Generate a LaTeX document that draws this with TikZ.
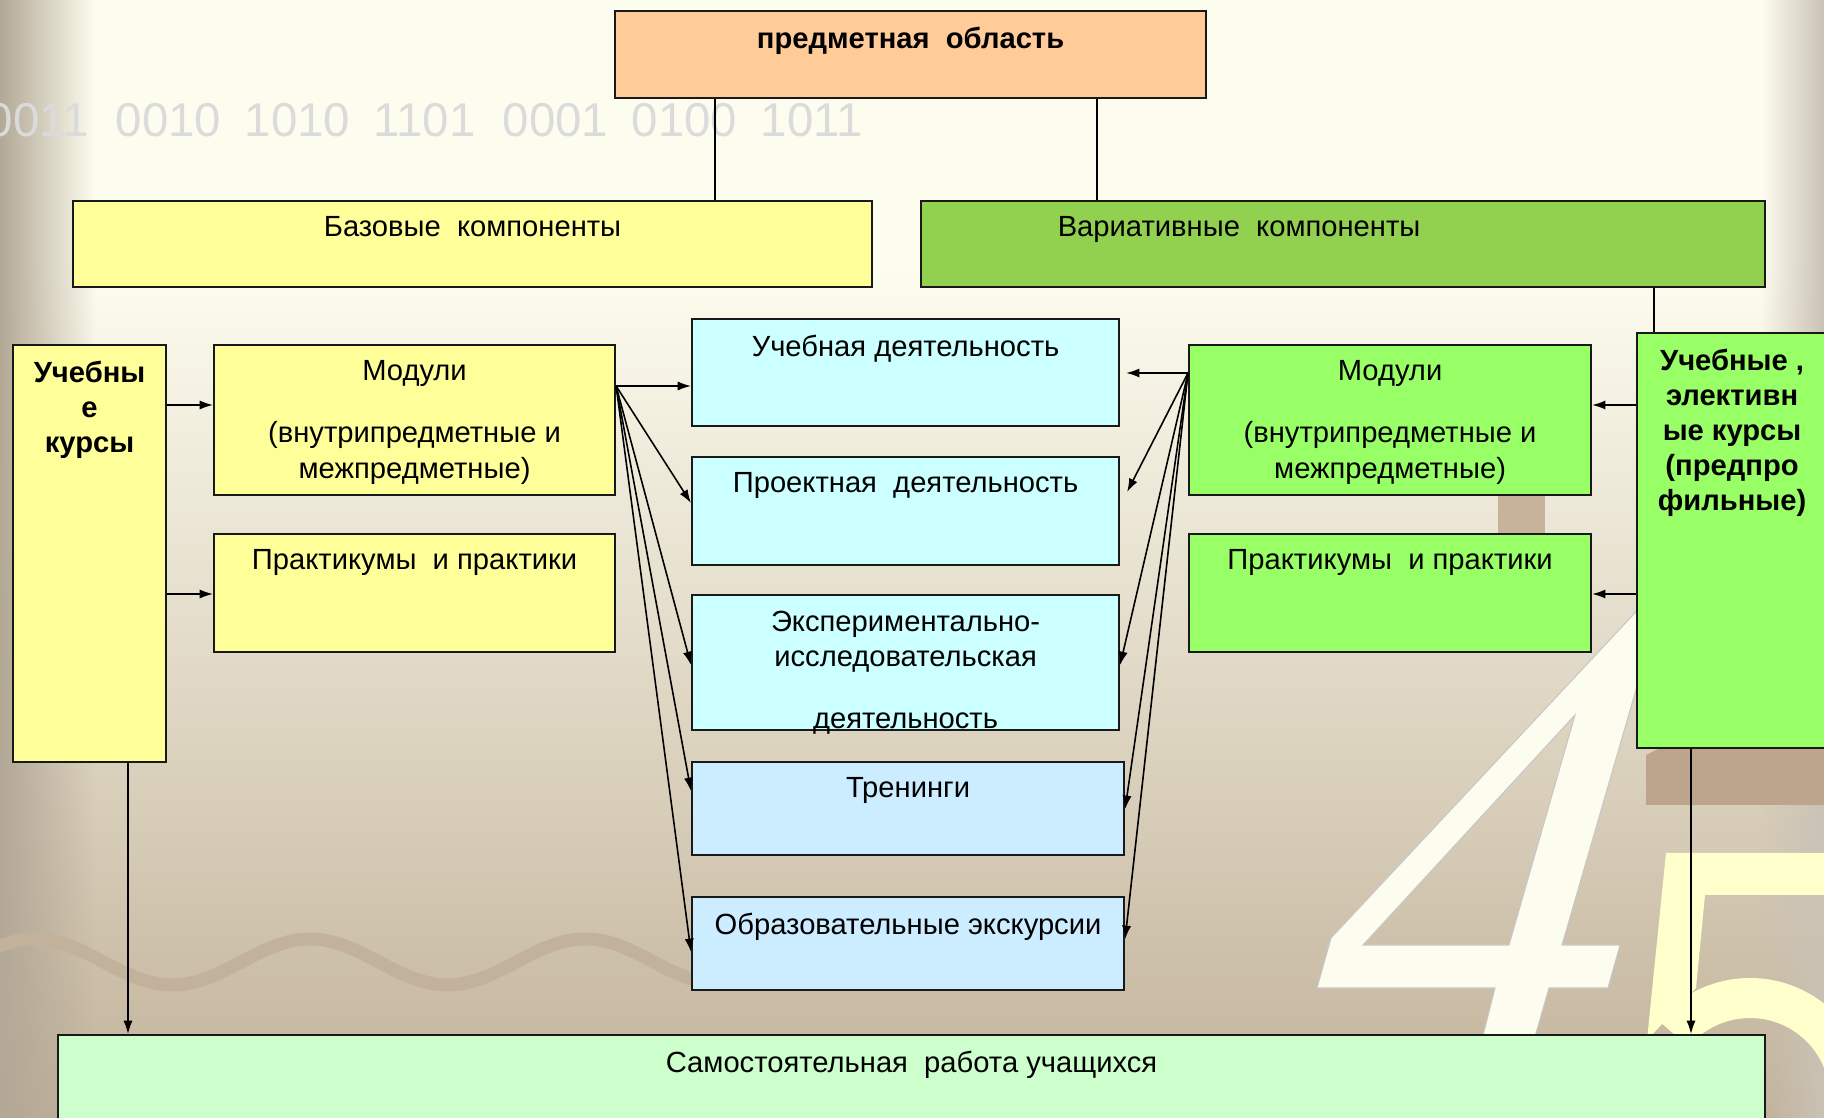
\documentclass[tikz,border=0pt]{standalone}
\usepackage{fontspec}
\setmainfont{Liberation Sans}
\usetikzlibrary{arrows.meta,positioning,fadings}

\definecolor{peach}{HTML}{FFCC99}
\definecolor{lyellow}{HTML}{FFFF99}
\definecolor{vargreen}{HTML}{92D050}
\definecolor{lgreen}{HTML}{99FF66}
\definecolor{lcyan}{HTML}{CCFFFF}
\definecolor{lblue}{HTML}{CCECFF}
\definecolor{mint}{HTML}{CCFFCC}
\definecolor{bgtop}{HTML}{FDFDEF}
\definecolor{bgbot}{HTML}{C2B29A}
\definecolor{edgeclr}{HTML}{B3A896}
\definecolor{waveclr}{HTML}{C2B29C}
\definecolor{brownbk}{HTML}{BDA58D}
\definecolor{fiveclr}{HTML}{FFFFCC}

\newcommand{\fs}{\fontsize{8.3}{10}\selectfont}

\tikzfading[name=fadeE, left color=transparent!0, right color=transparent!100]
\tikzfading[name=fadeW, left color=transparent!100, right color=transparent!0]

\begin{document}
\begin{tikzpicture}[y=-1cm,>={Latex[length=3.8pt,width=2.6pt]},font=\fs]
\tikzstyle{bx}=[draw=black!90,line width=0.6pt,anchor=north west,inner sep=0pt]
\tikzstyle{ttl}=[anchor=north,align=center,inner sep=0pt,yshift=-0.16cm]
\tikzstyle{ttlb}=[ttl,font=\fs\bfseries]
\tikzstyle{ln}=[line width=0.45pt]
\useasboundingbox (0,0) rectangle (18.24,11.18);
\clip (0,0) rectangle (18.24,11.18);
% background
\fill[bgtop] (0,0) rectangle (18.24,2.6);
\shade[top color=bgtop,bottom color=bgbot] (0,2.59) rectangle (18.24,11.18);
\fill[edgeclr,path fading=fadeE] (0,0) rectangle (0.95,11.18);
\fill[edgeclr!70,path fading=fadeW] (17.62,0) rectangle (18.24,11.18);
\draw[waveclr,line width=0.13cm] plot[domain=-0.3:7.0,samples=90,smooth] (\x,{9.62-0.23*cos(deg(2*pi*(\x-0.35)/2.75))});
\foreach \g [count=\i from 0] in {0011,0010,1010,1101,0001,0100,1011}
  \node[anchor=base west,inner sep=0pt,text=black!14,font=\fontsize{13.5}{14}\selectfont] (bin\i) at ({-0.14+1.29*\i},1.37) {\g};
\fill[brownbk!85!bgtop] (14.98,4.7) rectangle (15.45,5.5);
\fill[brownbk] (16.46,7.55) -- (16.62,7.47) -- (18.3,7.47) -- (18.3,8.05) -- (16.46,8.05) -- cycle;
\filldraw[fill=bgtop,draw=black!22,line width=0.3pt,even odd rule]
  (16.47,6.00) -- (16.62,6.00) -- (15.62,9.45) -- (16.20,9.45) -- (16.08,9.88) -- (15.49,9.88)
  -- (15.08,11.3) -- (14.59,11.3) -- (14.95,9.88) -- (13.17,9.88) -- (13.31,9.38) -- cycle
  (13.63,9.45) -- (15.09,9.45) -- (15.75,7.15) -- cycle;
\fill[fiveclr] (16.66,8.53) -- (18.4,8.53) -- (18.4,8.95) -- (17.05,8.95) -- (16.96,9.88) -- (16.47,10.4) -- cycle;
\draw[fiveclr,line width=0.4cm] (17.5,10.98) ++(-140:1) arc[start angle=-140,end angle=30,radius=1];

% top level
\node[bx,fill=peach,minimum width=5.91cm,minimum height=0.87cm,label={[ttlb]north:предметная~ область}] (top) at (6.14,0.10) {};
\node[bx,fill=lyellow,minimum width=7.99cm,minimum height=0.86cm,label={[ttl]north:Базовые~ компоненты}] (base) at (0.72,2.00) {};
\node[bx,fill=vargreen,minimum width=8.44cm,minimum height=0.86cm,label={[ttl,xshift=-1.04cm]north:Вариативные~ компоненты}] (var) at (9.20,2.00) {};

% left side
\node[bx,fill=lyellow,minimum width=1.53cm,minimum height=4.17cm,label={[ttlb]north:{Учебны\\е\\курсы}}] (lc) at (0.12,3.44) {};
\node[bx,fill=lyellow,minimum width=4.01cm,minimum height=1.50cm,label={[ttl]north:{Модули\\[0.27cm](внутрипредметные и\\межпредметные)}}] (lmod) at (2.13,3.44) {};
\node[bx,fill=lyellow,minimum width=4.01cm,minimum height=1.18cm,label={[ttl]north:Практикумы~ и практики}] (lpr) at (2.13,5.33) {};

% activities
\node[bx,fill=lcyan,minimum width=4.27cm,minimum height=1.07cm,label={[ttl]north:Учебная деятельность}] (ud) at (6.91,3.18) {};
\node[bx,fill=lcyan,minimum width=4.27cm,minimum height=1.08cm,label={[ttl]north:Проектная~ деятельность}] (pd) at (6.91,4.56) {};
\node[bx,fill=lcyan,minimum width=4.27cm,minimum height=1.35cm,label={[ttl]north:{Экспериментально-\\исследовательская\\[0.27cm]деятельность}}] (ed) at (6.91,5.94) {};
\node[bx,fill=lblue,minimum width=4.32cm,minimum height=0.93cm,label={[ttl]north:Тренинги}] (tr) at (6.91,7.61) {};
\node[bx,fill=lblue,minimum width=4.32cm,minimum height=0.93cm,label={[ttl]north:Образовательные экскурсии}] (ex) at (6.91,8.96) {};

% right side
\node[bx,fill=lgreen,minimum width=4.02cm,minimum height=1.50cm,label={[ttl]north:{Модули\\[0.27cm](внутрипредметные и\\межпредметные)}}] (rmod) at (11.88,3.44) {};
\node[bx,fill=lgreen,minimum width=4.02cm,minimum height=1.18cm,label={[ttl]north:Практикумы~ и практики}] (rpr) at (11.88,5.33) {};
\node[bx,fill=lgreen,minimum width=1.90cm,minimum height=4.15cm,label={[ttlb]north:{Учебные ,\\элективн\\ые курсы\\(предпро\\фильные)}}] (rc) at (16.36,3.32) {};

% bottom
\node[bx,fill=mint,minimum width=17.07cm,minimum height=1.3cm,label={[ttl]north:Самостоятельная~ работа учащихся}] (bot) at (0.57,10.34) {};

% tree lines
\coordinate (t1) at ([xshift=1.01cm]top.south west);
\coordinate (t2) at ([xshift=4.83cm]top.south west);
\draw[ln] (t1) -- (t1 |- base.north);
\draw[ln] (t2) -- (t2 |- var.north);
\coordinate (v1) at ([xshift=0.18cm]rc.north west);
\draw[ln] (v1 |- var.south) -- (v1);

% courses -> modules, practicums
\foreach \b in {lmod,lpr} {
  \coordinate (p) at ([yshift=-0.61cm]\b.north west);
  \draw[ln,->] (p -| lc.east) -- (p);
}
\foreach \b in {rmod,rpr} {
  \coordinate (p) at ([yshift=-0.61cm]\b.north east);
  \draw[ln,->] (p -| rc.west) -- (p);
}

% courses -> independent work
\coordinate (d1) at ([xshift=1.16cm]lc.south west);
\draw[ln,->] (d1) -- (d1 |- bot.north);
\coordinate (d2) at ([xshift=0.55cm]rc.south west);
\draw[ln,->] (d2) -- (d2 |- bot.north);

% modules -> activities
\coordinate (ls) at ([yshift=-0.42cm]lmod.north east);
\draw[ln,->] (ls) -- (ls -| ud.west);
\foreach \b/\d in {pd/0.47,ed/0.71,tr/0.30,ex/0.56}
  \draw[ln,->] (ls) -- ([yshift=-\d cm]\b.north west);
\coordinate (rs) at ([yshift=-0.29cm]rmod.north west);
\coordinate (re) at (rs -| ud.east);
\draw[ln,->] (rs) -- ([xshift=0.06cm]re);
\foreach \b/\d/\s in {pd/0.36/0.07,ed/0.71/0,tr/0.48/0,ex/0.43/0}
  \draw[ln,->] (rs) -- ([xshift=\s cm,yshift=-\d cm]\b.north east);
\end{tikzpicture}
\end{document}
